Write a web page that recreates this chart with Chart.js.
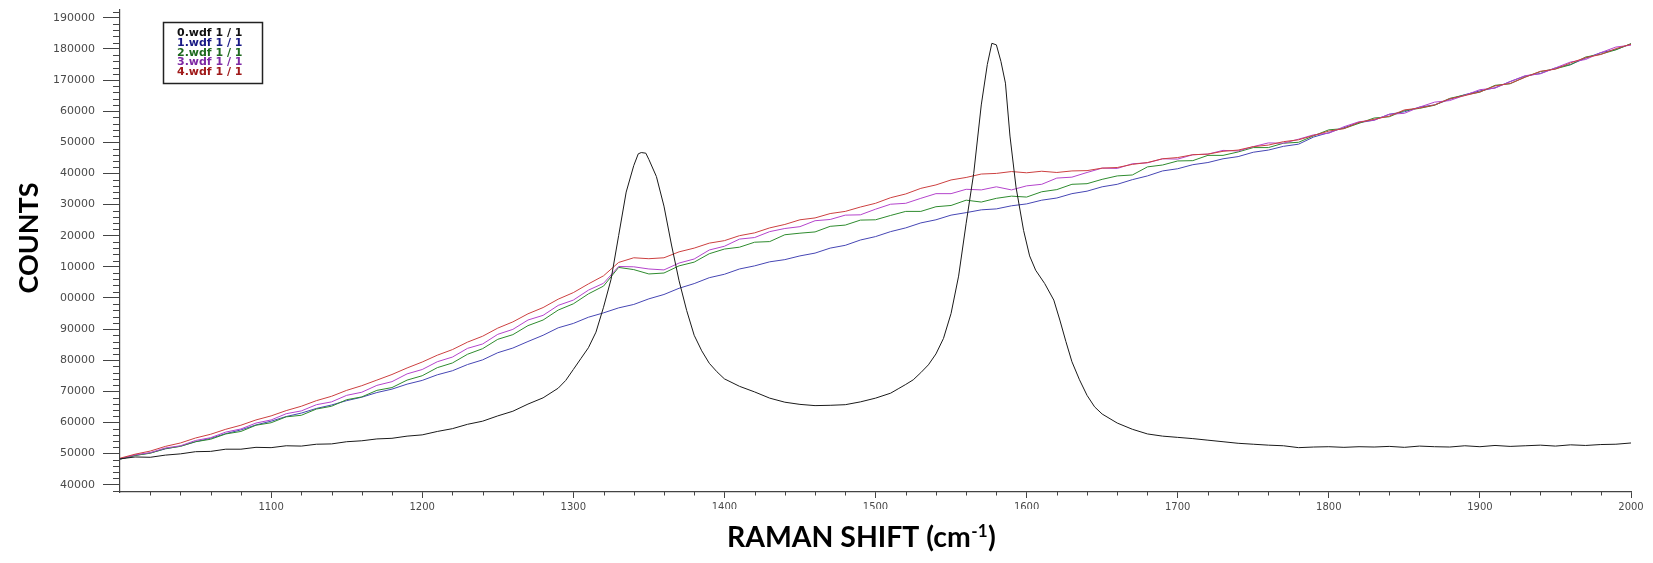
<!DOCTYPE html>
<html>
<head>
<meta charset="utf-8">
<title>Raman spectra</title>
<script src="https://cdn.jsdelivr.net/npm/chart.js@4.4.1/dist/chart.umd.min.js"></script>
<style>
  html, body { margin: 0; padding: 0; background: #ffffff; }
  #wrap { width: 1653px; height: 563px; }
</style>
</head>
<body>
<div id="wrap"><canvas id="spectra" width="1653" height="563"></canvas></div>
<script>
// Raman shift grid (cm-1) shared by spectra 1-4
const ramanShift = [
  1000, 1010, 1020, 1030, 1040, 1050, 1060, 1070, 1080, 1090,
  1100, 1110, 1120, 1130, 1140, 1150, 1160, 1170, 1180, 1190,
  1200, 1210, 1220, 1230, 1240, 1250, 1260, 1270, 1280, 1290,
  1300, 1310, 1320, 1330, 1340, 1350, 1360, 1370, 1380, 1390,
  1400, 1410, 1420, 1430, 1440, 1450, 1460, 1470, 1480, 1490,
  1500, 1510, 1520, 1530, 1540, 1550, 1560, 1570, 1580, 1590,
  1600, 1610, 1620, 1630, 1640, 1650, 1660, 1670, 1680, 1690,
  1700, 1710, 1720, 1730, 1740, 1750, 1760, 1770, 1780, 1790,
  1800, 1810, 1820, 1830, 1840, 1850, 1860, 1870, 1880, 1890,
  1900, 1910, 1920, 1930, 1940, 1950, 1960, 1970, 1980, 1990,
  2000
];

// Spectrum 0 is sampled more finely around the D and G bands
const shift0 = [
  1000, 1010, 1020, 1030, 1040, 1050, 1060, 1070, 1080, 1090,
  1100, 1110, 1120, 1130, 1140, 1150, 1160, 1170, 1180, 1190,
  1200, 1210, 1220, 1230, 1240, 1250, 1260, 1270, 1280, 1290,
  1295, 1300, 1305, 1310, 1315, 1320, 1325, 1330, 1335, 1340,
  1343, 1345, 1348, 1350, 1355, 1360, 1365, 1370, 1375, 1380,
  1385, 1390, 1395, 1400, 1410, 1420, 1430, 1440, 1450, 1460,
  1470, 1480, 1490, 1500, 1510, 1515, 1520, 1525, 1530, 1535,
  1540, 1545, 1550, 1555, 1560, 1565, 1570, 1574, 1577, 1580,
  1583, 1586, 1589, 1593, 1598, 1602, 1606, 1612, 1618, 1622,
  1626, 1630, 1635, 1640, 1645, 1650, 1660, 1670, 1680, 1690,
  1700, 1710, 1720, 1730, 1740, 1750, 1760, 1770, 1780, 1790,
  1800, 1810, 1820, 1830, 1840, 1850, 1860, 1870, 1880, 1890,
  1900, 1910, 1920, 1930, 1940, 1950, 1960, 1970, 1980, 1990,
  2000
];

const counts0 = [
  48300, 48900, 48800, 49500, 49900, 50600, 50700, 51400, 51400, 52000,
  51900, 52500, 52400, 53000, 53100, 53800, 54100, 54700, 54900, 55600,
  56000, 57100, 58000, 59400, 60400, 62100, 63600, 65900, 67900, 71000,
  73500, 77000, 80500, 84000, 89000, 97000, 106000, 120000, 134000, 142500,
  146300, 146700, 146500, 144500, 139000, 129500, 117000, 105500, 96000, 88000,
  83000, 79000, 76300, 74000, 71600, 69800, 67800, 66500, 65800, 65400,
  65500, 65700, 66600, 67800, 69400, 70800, 72200, 73700, 76000, 78500,
  82000, 87000, 95000, 107000, 124000, 140000, 162000, 175000, 181800, 181300,
  176000, 169000, 152000, 135600, 121700, 113500, 108900, 104600, 99300, 92900,
  86000, 79500, 73700, 68700, 65000, 62700, 59800, 57800, 56300, 55600,
  55200, 54800, 54300, 53800, 53300, 53000, 52700, 52500, 51900, 52100,
  52200, 52000, 52200, 52100, 52300, 52000, 52400, 52200, 52100, 52500,
  52200, 52600, 52300, 52500, 52700, 52400, 52800, 52600, 52900, 53000,
  53400
];

const counts1 = [
  48200, 49400, 50200, 51500, 52400, 53800, 54900, 56400, 57600, 59200,
  60400, 61900, 63000, 64500, 65600, 67000, 68100, 69600, 70700, 72300,
  73500, 75300, 76600, 78600, 80100, 82400, 83900, 86000, 88000, 90400,
  91800, 93800, 95200, 96800, 97900, 99700, 101100, 103100, 104600, 106500,
  107600, 109300, 110300, 111600, 112300, 113500, 114400, 116000, 116900, 118600,
  119700, 121300, 122500, 124100, 125100, 126600, 127400, 128300, 128600, 129600,
  130200, 131400, 132100, 133500, 134300, 135700, 136500, 138000, 139200, 140800,
  141500, 142800, 143500, 144700, 145400, 146800, 147500, 148700, 149400, 151700,
  153100, 154700, 156300, 157100, 159000, 159800, 161300, 162000, 163800, 165300,
  166500, 167500, 169500, 171300, 172100, 173900, 175000, 177000, 178800, 179800,
  181600
];

const counts2 = [
  48200, 49400, 50100, 51600, 52300, 53800, 54600, 56300, 57100, 59100,
  59900, 61800, 62300, 64300, 65200, 67300, 68200, 70300, 71200, 73600,
  75000, 77600, 79100, 81900, 83700, 86700, 88200, 91100, 92900, 96100,
  98100, 101300, 103800, 109800, 109100, 107700, 108000, 110300, 111500, 114200,
  115700, 116300, 117900, 118100, 120300, 120800, 121200, 123000, 123400, 125000,
  125100, 126500, 127800, 127800, 129300, 129700, 131400, 130800, 132000, 132700,
  132400, 134100, 134800, 136500, 136700, 138100, 139200, 139500, 142100, 142700,
  144000, 144100, 145800, 145800, 146900, 148300, 148300, 149700, 150000, 152100,
  154000, 154400, 156100, 157800, 158200, 160200, 160900, 161900, 164100, 165200,
  166100, 168300, 168800, 171000, 172700, 173600, 174900, 177400, 178300, 179700,
  181700
];

const counts3 = [
  48300, 49600, 50300, 51800, 52500, 54200, 55100, 56900, 57900, 59800,
  60800, 62800, 63700, 65700, 66600, 68700, 69700, 71900, 73100, 75600,
  77000, 79500, 81000, 83800, 85200, 88300, 89900, 92900, 94400, 97600,
  99300, 102500, 104700, 110100, 110000, 109300, 109000, 111200, 112500, 115400,
  116600, 118900, 119400, 121300, 122300, 122900, 124800, 125200, 126600, 126700,
  128500, 130100, 130400, 132000, 133500, 133500, 134900, 134700, 135700, 134700,
  136000, 136500, 138500, 138800, 140300, 141700, 141600, 143100, 143400, 144700,
  144600, 146000, 146200, 147400, 147200, 148600, 149800, 149700, 151000, 152400,
  152900, 155000, 156600, 157100, 159000, 159300, 161300, 162900, 163400, 165100,
  166900, 167400, 169500, 171400, 172000, 173900, 175800, 176600, 178800, 180600,
  181200
];

const counts4 = [
  48500, 49800, 50800, 52300, 53400, 55000, 56200, 57800, 59100, 60800,
  62100, 63800, 65200, 67000, 68400, 70300, 71800, 73600, 75400, 77500,
  79400, 81600, 83400, 85800, 87700, 90300, 92300, 94900, 96900, 99600,
  101700, 104500, 107100, 111400, 112900, 112600, 112900, 114800, 116000, 117600,
  118400, 120000, 120900, 122500, 123600, 125100, 125700, 127100, 127800, 129200,
  130400, 132200, 133400, 135200, 136300, 137900, 138700, 139800, 140000, 140600,
  140200, 140700, 140300, 140800, 140900, 141700, 141900, 142900, 143500, 144700,
  145100, 146000, 146200, 147100, 147500, 148600, 149100, 150200, 150800, 152200,
  153600, 154400, 156400, 157400, 158400, 160400, 161000, 162000, 164000, 165000,
  166200, 168100, 168900, 170900, 172800, 173500, 175500, 177200, 178200, 180100,
  181500
];

const seriesNames = ['0.wdf 1 / 1', '1.wdf 1 / 1', '2.wdf 1 / 1', '3.wdf 1 / 1', '4.wdf 1 / 1'];
const lineColors = ['#1a1a1a', '#4646b4', '#2e8b2e', '#b444cc', '#cc4040'];
const legendTextColors = ['#111111', '#1a1a86', '#1f6a1f', '#7e2aa4', '#a01a1a'];

// Axis ticks
const xTickValues = [1100, 1200, 1300, 1400, 1500, 1600, 1700, 1800, 1900, 2000];
const xTickLabels = ['1100', '1200', '1300', '1400', '1500', '1600', '1700', '1800', '1900', '2000'];
const yTickValues = [40000, 50000, 60000, 70000, 80000, 90000, 100000, 110000,
                     120000, 130000, 140000, 150000, 160000, 170000, 180000, 190000];
const yTickLabels = ['40000', '50000', '60000', '70000', '80000', '90000', '00000', '10000',
                     '20000', '30000', '40000', '50000', '60000', '170000', '180000', '190000'];
const xMinorStep = 20;
const yMinorStep = 2000;

function toPoints(xs, ys) {
  return xs.map((v, i) => ({ x: v, y: ys[i] }));
}

const seriesData = [
  toPoints(shift0, counts0),
  toPoints(ramanShift, counts1),
  toPoints(ramanShift, counts2),
  toPoints(ramanShift, counts3),
  toPoints(ramanShift, counts4)
];
// drawing order: spectrum 0 on top, then 4, 3, 2, 1
const drawOrder = [0, 4, 3, 2, 1];

const datasets = seriesData.map((pts, i) => ({
  label: seriesNames[i],
  data: pts,
  borderColor: lineColors[i],
  backgroundColor: lineColors[i],
  borderWidth: 1,
  pointRadius: 0,
  tension: 0,
  fill: false,
  order: drawOrder[i]
}));

const axisColor = '#444444';

const decorations = {
  id: 'decorations',
  afterDraw(chart) {
    const { ctx, chartArea: a, scales } = chart;
    const xs = scales.x, ys = scales.y;
    ctx.save();

    // minor ticks
    ctx.strokeStyle = axisColor;
    ctx.lineWidth = 1;
    ctx.beginPath();
    for (let v = Math.ceil(ys.min / yMinorStep) * yMinorStep; v <= ys.max; v += yMinorStep) {
      if (v % 10000 === 0) continue;
      const py = Math.round(ys.getPixelForValue(v)) + 0.5;
      ctx.moveTo(a.left - 7, py);
      ctx.lineTo(a.left, py);
    }
    for (let v = xs.min + xMinorStep; v < xs.max; v += xMinorStep) {
      if (v % 100 === 0) continue;
      const px = Math.round(xs.getPixelForValue(v)) + 0.5;
      ctx.moveTo(px, a.bottom);
      ctx.lineTo(px, a.bottom + 3.5);
    }
    ctx.stroke();

    // x axis title, with its white backing
    ctx.fillStyle = '#ffffff';
    ctx.fillRect(640, 509, 470, 54);
    const base = 'RAMAN SHIFT (cm', sup = '-1', tail = ')';
    const targetW = 269;
    let size = 30;
    const widthAt = s => {
      ctx.font = `bold ${s}px Lato`;
      const w1 = ctx.measureText(base).width + ctx.measureText(tail).width;
      ctx.font = `bold ${s * 0.6}px Lato`;
      return w1 + ctx.measureText(sup).width + s * 0.04;
    };
    size = size * targetW / widthAt(size);
    let tx = 727;
    const baseY = 547;
    ctx.fillStyle = '#000000';
    ctx.textBaseline = 'alphabetic';
    ctx.textAlign = 'left';
    ctx.font = `bold ${size}px Lato`;
    ctx.fillText(base, tx, baseY);
    tx += ctx.measureText(base).width + size * 0.02;
    ctx.font = `bold ${size * 0.6}px Lato`;
    ctx.fillText(sup, tx, baseY - size * 0.36);
    tx += ctx.measureText(sup).width + size * 0.02;
    ctx.font = `bold ${size}px Lato`;
    ctx.fillText(tail, tx, baseY);

    // y axis title
    const yTitle = 'COUNTS';
    ctx.font = `bold 30px Lato`;
    const ySize = 30 * 111 / ctx.measureText(yTitle).width;
    ctx.font = `bold ${ySize}px Lato`;
    ctx.translate(28, 238);
    ctx.rotate(-Math.PI / 2);
    ctx.textAlign = 'center';
    ctx.fillText(yTitle, 0, ySize * 0.36);
    ctx.setTransform(1, 0, 0, 1, 0, 0);

    // legend box
    const lx = 163.5, ly = 22.5, lw = 99, lh = 61;
    ctx.fillStyle = '#ffffff';
    ctx.fillRect(lx, ly, lw, lh);
    ctx.strokeStyle = '#222222';
    ctx.lineWidth = 1.5;
    ctx.strokeRect(lx, ly, lw, lh);
    ctx.font = 'bold 11px "DejaVu Sans"';
    ctx.textAlign = 'left';
    ctx.textBaseline = 'middle';
    chart.data.datasets.forEach((ds, i) => {
      ctx.fillStyle = legendTextColors[i];
      ctx.fillText(ds.label, 177, 33.5 + i * 9.7);
    });
    ctx.restore();
  }
};

new Chart(document.getElementById('spectra'), {
  type: 'line',
  data: { datasets },
  options: {
    responsive: false,
    animation: false,
    events: [],
    layout: { padding: { left: 0, top: 10, right: 22, bottom: 0 } },
    plugins: {
      legend: { display: false },
      tooltip: { enabled: false },
      title: { display: false }
    },
    scales: {
      x: {
        type: 'linear',
        min: 1000,
        max: 2000,
        afterBuildTicks: s => { s.ticks = xTickValues.map(v => ({ value: v })); },
        afterFit: s => { s.height = 71; s.paddingLeft = 0; s.paddingRight = 0; },
        grid: { drawOnChartArea: false, drawTicks: true, tickLength: 6, color: axisColor, lineWidth: 1 },
        border: { display: true, color: axisColor, width: 1.2 },
        ticks: {
          autoSkip: false,
          maxRotation: 0,
          padding: 3,
          color: '#4a4a4a',
          font: { family: 'DejaVu Sans', size: 10 },
          callback: v => xTickLabels[xTickValues.indexOf(v)]
        }
      },
      y: {
        type: 'linear',
        min: 37650,
        max: 192500,
        afterBuildTicks: s => { s.ticks = yTickValues.map(v => ({ value: v })); },
        afterFit: s => { s.width = 120; s.paddingTop = 0; s.paddingBottom = 0; },
        grid: { drawOnChartArea: false, drawTicks: true, tickLength: 17, color: axisColor, lineWidth: 1 },
        border: { display: true, color: axisColor, width: 1.2 },
        ticks: {
          autoSkip: false,
          padding: 8,
          color: '#4a4a4a',
          font: { family: 'DejaVu Sans', size: 11 },
          callback: v => yTickLabels[yTickValues.indexOf(v)]
        }
      }
    }
  },
  plugins: [decorations]
});
</script>
</body>
</html>
